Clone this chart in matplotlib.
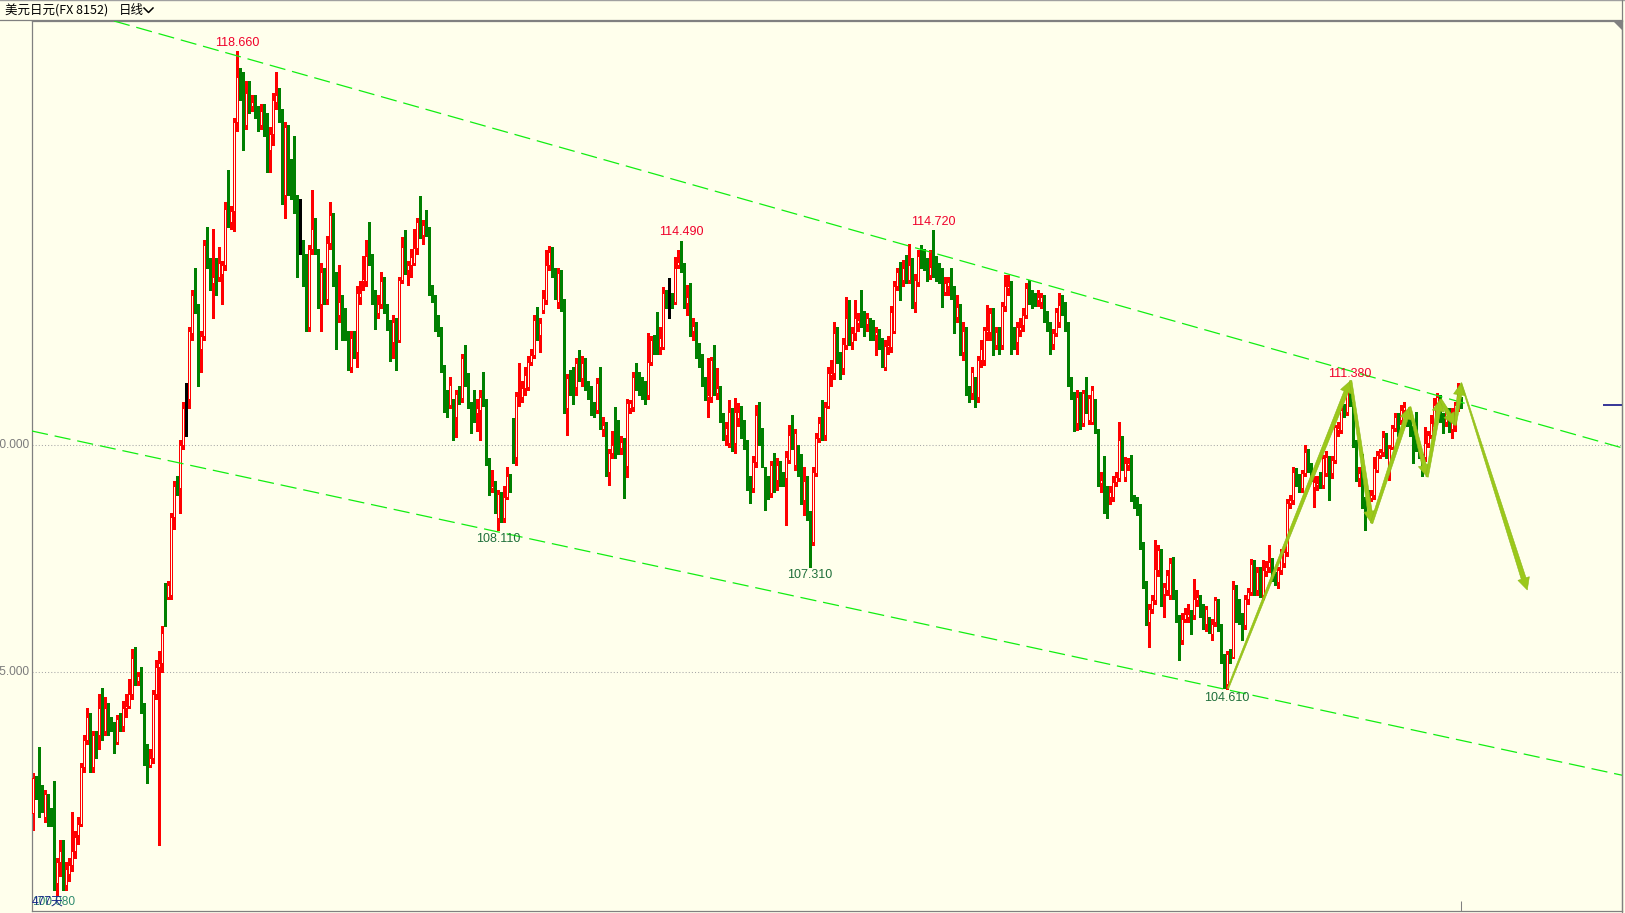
import matplotlib
matplotlib.use("Agg")
import matplotlib.pyplot as plt
import numpy as np
from matplotlib.patches import Polygon
from matplotlib.lines import Line2D
from matplotlib.transforms import IdentityTransform

plt.rcParams['font.family'] = ['Liberation Sans', 'Noto Sans CJK SC', 'DejaVu Sans']

# ---------------- data: USD/JPY daily candles (477 bars) ----------------
opens = [
    101.88, 102.66, 102.3, 102.4, 101.8, 102.3, 102.0, 101.75, 100.35, 100.8,
    101.05, 100.3, 100.55, 100.75, 101.05, 101.4, 101.65, 102.9, 103.5, 104.0,
    102.9, 103.6, 103.6, 104.2, 103.7, 104.2, 103.95, 103.85, 103.45, 103.95,
    103.8, 104.2, 104.25, 104.5, 105.3, 104.8, 104.9, 104.2, 103.35, 102.95,
    103.1, 104.5, 105.1, 105.2, 106.9, 106.65, 106.7, 108.4, 109.15, 109.05,
    110.0, 110.95, 111.0, 112.45, 113.3, 113.0, 112.1, 112.4, 114.4, 114.0,
    113.55, 114.0, 113.7, 113.75, 113.95, 115.2, 114.9, 115.15, 117.1, 118.1,
    117.9, 117.05, 117.75, 117.45, 117.45, 117.35, 117.05, 117.4, 117.2, 116.5,
    116.85, 117.55, 117.7, 117.3, 115.5, 117.0, 116.0, 115.6, 115.4, 114.55,
    114.15, 114.1, 112.6, 114.3, 114.8, 114.1, 113.1, 113.8, 113.2, 114.45,
    114.8, 113.65, 112.85, 113.15, 112.75, 112.35, 111.7, 112.35, 112.05, 113.25,
    113.6, 113.6, 114.2, 114.1, 113.25, 112.9, 113.1, 113.6, 113.08, 112.67,
    112.27, 112.7, 112.3, 113.63, 114.36, 113.85, 113.96, 114.0, 114.32, 114.87,
    114.62, 114.84, 114.74, 113.37, 113.26, 112.71, 112.52, 111.68, 111.13, 110.87,
    110.87, 110.62, 111.11, 111.02, 111.9, 111.36, 110.87, 110.76, 110.69, 110.76,
    111.09, 110.91, 109.62, 109.04, 109.09, 108.38, 108.87, 108.38, 108.85, 109.29,
    109.88, 109.73, 111.02, 111.06, 111.24, 111.28, 111.83, 111.97, 112.74, 112.41,
    112.96, 113.18, 113.96, 114.25, 113.85, 113.15, 113.81, 113.11, 110.8, 111.5,
    111.35, 111.28, 111.79, 111.46, 111.79, 111.29, 111.22, 110.84, 110.76, 111.31,
    110.34, 110.43, 109.4, 109.81, 110.34, 110.3, 109.92, 110.06, 109.53, 110.8,
    110.84, 111.5, 111.46, 111.35, 111.28, 111.09, 111.83, 112.3, 112.27, 112.16,
    112.16, 113.32, 113.26, 113.26, 113.15, 113.96, 113.98, 113.92, 113.11, 113.26,
    112.51, 112.6, 112.05, 111.9, 111.4, 111.06, 111.06, 111.86, 111.13, 111.24,
    110.63, 110.21, 110.03, 110.65, 110.03, 110.58, 110.76, 110.36, 110.03, 109.15,
    109.04, 109.62, 110.65, 110.18, 109.4, 109.18, 108.93, 109.55, 109.22, 109.55,
    109.26, 109.26, 109.66, 110.25, 109.55, 109.7, 109.7, 108.78, 109.2, 108.45,
    107.86, 109.37, 110.14, 110.47, 110.21, 110.85, 111.53, 111.57, 112.47, 111.97,
    111.68, 112.2, 112.8, 112.25, 112.45, 112.67, 112.85, 112.82, 112.66, 112.69,
    112.67, 112.41, 112.47, 112.27, 111.72, 112.16, 112.16, 112.5, 113.49, 113.81,
    113.63, 113.96, 113.63, 113.96, 113.15, 113.59, 114.18, 114.07, 114.0, 113.74,
    114.07, 113.96, 113.92, 113.81, 113.37, 113.5, 113.59, 113.41, 112.82, 113.04,
    112.05, 112.5, 111.17, 111.13, 111.42, 111.06, 111.86, 111.86, 112.49, 112.49,
    112.89, 112.2, 112.52, 112.2, 113.05, 113.44, 113.49, 112.52, 112.27, 112.52,
    112.63, 112.85, 113.44, 113.3, 113.26, 113.19, 113.15, 113.19, 112.85, 112.63,
    112.22, 112.45, 112.71, 113.05, 113.05, 112.6, 111.35, 111.06, 110.47, 111.09,
    110.47, 111.02, 110.54, 110.51, 110.95, 110.32, 109.15, 109.66, 108.96, 108.85,
    108.85, 109.18, 109.26, 110.1, 109.29, 109.55, 109.59, 108.82, 108.78, 108.63,
    107.79, 106.94, 106.1, 106.39, 106.58, 107.24, 107.6, 106.72, 106.8, 106.69,
    107.39, 106.69, 106.17, 105.7, 106.17, 106.21, 106.28, 106.25, 106.58, 106.58,
    106.39, 106.06, 106.1, 105.84, 106.1, 106.52, 105.99, 105.33, 104.74, 105.4,
    105.33, 106.83, 106.43, 106.25, 106.03, 106.61, 106.76, 107.37, 106.8, 107.2,
    106.69, 107.22, 107.31, 107.42, 107.13, 106.98, 107.24, 107.39, 107.64, 108.71,
    108.78, 109.4, 109.29, 109.04, 109.37, 109.84, 109.51, 109.07, 109.11, 109.29,
    109.11, 109.37, 109.66, 109.37, 109.66, 110.32, 110.32, 110.76, 110.73, 111.17,
    110.91, 110.03, 109.26, 109.44, 108.78, 108.93, 108.82, 108.89, 109.44, 109.77,
    109.84, 110.14, 109.44, 109.95, 110.36, 110.61, 110.54, 110.76, 110.58, 110.54,
    110.32, 110.03, 109.95, 109.73, 109.73, 110.03, 110.21, 110.47, 110.91, 111.02,
    110.61, 110.51, 110.73, 110.35, 110.43, 110.85, 111.0,
]

highs = [
    102.78, 102.7, 103.35, 102.5, 102.4, 102.3, 102.0, 102.6, 100.9, 101.3,
    101.3, 100.8, 100.9, 101.9, 101.5, 101.8, 103.0, 103.6, 104.2, 104.1,
    103.7, 103.7, 104.5, 104.65, 104.45, 104.3, 104.0, 103.9, 104.05, 104.1,
    104.35, 104.5, 104.85, 105.5, 105.55, 105.0, 105.1, 104.3, 103.4, 103.3,
    104.6, 105.25, 105.45, 106.0, 106.95, 107.0, 108.5, 109.2, 109.3, 110.1,
    110.95, 111.35, 112.6, 113.4, 113.9, 113.1, 112.5, 114.5, 114.8, 114.1,
    114.75, 114.1, 114.35, 114.05, 115.35, 116.05, 115.25, 117.2, 118.66, 118.3,
    118.2, 118.0, 118.0, 117.7, 117.7, 117.45, 117.5, 117.5, 117.3, 117.0,
    117.75, 118.2, 117.85, 117.4, 117.1, 117.05, 116.3, 116.8, 115.5, 115.4,
    114.5, 114.2, 114.4, 115.6, 115.0, 114.3, 114.0, 113.9, 114.6, 115.35,
    115.1, 113.8, 113.95, 113.3, 113.0, 112.5, 112.5, 112.5, 113.5, 113.6,
    114.15, 114.5, 114.9, 114.2, 113.4, 113.3, 113.8, 113.7, 113.1, 112.75,
    112.85, 112.8, 113.7, 114.58, 114.73, 114.05, 114.3, 114.76, 115.0, 115.48,
    114.95, 115.17, 114.8, 113.52, 113.3, 112.85, 112.6, 111.75, 111.2, 111.5,
    111.0, 111.2, 111.3, 112.0, 112.19, 111.57, 110.95, 111.2, 111.0, 111.2,
    111.6, 111.0, 109.7, 109.44, 109.2, 109.0, 108.95, 109.1, 109.51, 109.35,
    110.58, 111.17, 111.79, 111.4, 111.7, 111.95, 112.1, 112.85, 113.04, 112.8,
    113.4, 114.29, 114.37, 114.36, 113.9, 113.9, 113.85, 113.2, 111.55, 111.64,
    111.7, 111.9, 112.08, 111.95, 111.9, 111.4, 111.3, 110.95, 111.46, 111.72,
    110.6, 110.5, 109.9, 110.29, 110.84, 110.54, 110.2, 110.15, 111.0, 110.98,
    111.61, 111.79, 111.6, 111.5, 111.4, 112.45, 112.4, 112.41, 112.93, 112.6,
    113.48, 113.4, 113.66, 113.35, 114.14, 114.29, 114.49, 114.0, 113.52, 113.55,
    112.8, 112.7, 112.23, 112.0, 111.5, 111.9, 111.94, 112.19, 111.68, 111.3,
    110.7, 110.5, 110.98, 110.8, 111.02, 110.91, 110.85, 110.54, 110.1, 109.3,
    109.75, 110.87, 110.95, 110.36, 109.5, 109.3, 109.65, 109.81, 109.7, 109.65,
    109.4, 109.85, 110.43, 110.65, 110.35, 110.0, 109.8, 109.5, 109.3, 108.55,
    109.5, 110.25, 110.6, 110.98, 110.93, 111.7, 111.86, 112.71, 112.6, 112.05,
    112.35, 113.26, 113.19, 112.6, 113.19, 112.9, 113.41, 112.95, 112.9, 112.8,
    112.75, 112.6, 112.55, 112.35, 112.3, 112.4, 113.05, 113.6, 113.9, 114.03,
    114.07, 114.18, 114.43, 114.1, 113.75, 114.29, 114.4, 114.3, 114.1, 114.29,
    114.72, 114.15, 114.0, 113.9, 113.7, 113.7, 113.88, 113.5, 113.3, 113.1,
    112.7, 112.6, 111.3, 111.7, 111.5, 111.95, 112.3, 112.6, 113.08, 113.0,
    113.0, 112.6, 112.6, 113.15, 113.74, 113.74, 113.6, 112.6, 112.7, 112.8,
    113.0, 113.55, 113.63, 113.4, 113.35, 113.4, 113.33, 113.3, 112.95, 112.7,
    112.55, 113.0, 113.33, 113.3, 113.15, 112.7, 111.5, 111.15, 111.2, 111.15,
    111.2, 111.5, 111.1, 111.3, 111.0, 110.35, 109.4, 109.75, 109.1, 109.1,
    109.3, 109.4, 110.5, 110.2, 109.73, 109.7, 109.77, 108.9, 108.85, 108.7,
    107.85, 107.0, 106.5, 106.7, 107.9, 107.8, 107.7, 106.95, 107.25, 107.5,
    107.53, 106.8, 106.25, 106.3, 106.4, 106.5, 106.35, 107.05, 106.8, 106.7,
    106.5, 106.45, 106.2, 106.15, 106.65, 106.6, 106.05, 105.4, 105.45, 105.5,
    107.0, 106.9, 106.6, 106.3, 106.7, 106.85, 107.49, 107.45, 107.3, 107.3,
    107.46, 107.44, 107.79, 107.5, 107.2, 107.3, 107.7, 107.75, 108.8, 108.9,
    109.5, 109.48, 109.35, 109.45, 109.99, 109.9, 109.6, 109.3, 109.3, 109.4,
    109.77, 109.85, 109.75, 109.75, 110.43, 110.5, 110.85, 110.9, 111.3, 111.38,
    110.95, 110.1, 109.5, 109.8, 108.85, 109.0, 109.0, 109.73, 109.85, 109.9,
    110.3, 110.25, 110.0, 110.43, 110.7, 110.7, 110.87, 110.95, 110.7, 110.6,
    110.4, 110.73, 110.0, 109.8, 110.39, 110.3, 110.65, 111.02, 111.13, 111.09,
    110.7, 110.8, 110.8, 110.8, 110.95, 111.36, 111.05,
]

lows = [
    101.52, 102.2, 101.8, 101.9, 101.7, 101.6, 101.6, 100.2, 100.08, 100.5,
    100.2, 100.2, 100.4, 100.6, 100.9, 101.2, 101.6, 102.8, 103.4, 102.8,
    102.8, 103.1, 103.3, 103.5, 103.6, 103.6, 103.7, 103.2, 103.4, 103.7,
    103.7, 104.0, 104.2, 104.4, 104.7, 104.7, 104.1, 102.95, 102.55, 102.9,
    103.0, 104.4, 101.19, 105.0, 106.0, 106.6, 106.6, 108.15, 108.9, 108.5,
    109.9, 110.2, 110.8, 112.3, 112.9, 111.3, 111.6, 112.3, 113.9, 113.4,
    112.8, 113.3, 113.6, 113.1, 113.85, 114.8, 114.75, 114.7, 116.9, 117.6,
    116.5, 116.95, 117.3, 117.35, 117.2, 116.9, 116.95, 116.8, 116.0, 116.0,
    116.6, 117.4, 117.1, 115.3, 115.0, 115.5, 115.4, 115.1, 113.7, 114.2,
    113.5, 112.5, 112.5, 114.2, 114.2, 113.0, 112.5, 113.1, 113.1, 114.3,
    113.5, 112.1, 112.7, 112.3, 112.3, 111.65, 111.6, 111.9, 111.7, 113.1,
    113.4, 113.5, 113.95, 113.1, 112.55, 112.8, 113.0, 112.9, 112.52, 111.85,
    111.9, 111.65, 112.25, 113.55, 113.75, 113.52, 113.7, 113.95, 114.2, 114.55,
    114.43, 114.6, 113.3, 113.15, 112.5, 112.4, 111.6, 110.73, 110.6, 110.8,
    110.1, 110.17, 110.9, 110.95, 111.3, 110.8, 110.25, 110.5, 110.29, 110.1,
    110.85, 109.55, 108.9, 108.95, 108.5, 108.11, 108.3, 108.3, 108.8, 108.95,
    109.6, 109.55, 110.85, 110.95, 111.1, 111.2, 111.75, 111.9, 112.3, 112.05,
    112.9, 113.1, 113.85, 113.7, 113.2, 113.0, 112.95, 110.7, 110.21, 111.1,
    110.9, 111.1, 111.4, 111.3, 111.2, 111.0, 110.65, 110.6, 110.7, 110.35,
    110.2, 109.3, 109.11, 109.7, 109.7, 109.8, 109.8, 108.82, 109.29, 110.7,
    110.75, 111.2, 111.1, 111.0, 110.9, 111.0, 111.75, 112.0, 112.0, 112.0,
    112.1, 113.0, 112.78, 113.0, 113.1, 113.9, 113.8, 113.0, 112.85, 112.4,
    112.3, 111.9, 111.7, 111.3, 110.98, 110.62, 110.95, 111.1, 111.0, 110.5,
    110.1, 110.0, 109.95, 109.85, 109.81, 110.4, 110.15, 109.9, 109.0, 108.71,
    108.95, 109.5, 110.0, 109.5, 108.56, 108.8, 108.85, 108.95, 109.0, 109.1,
    109.08, 108.23, 109.6, 109.9, 109.45, 109.3, 108.7, 108.45, 108.35, 107.31,
    107.8, 109.3, 110.05, 110.1, 110.1, 110.8, 111.3, 111.45, 111.8, 111.45,
    111.55, 112.1, 112.2, 112.1, 112.3, 112.5, 112.6, 112.4, 112.5, 112.3,
    112.3, 111.97, 112.1, 111.7, 111.65, 112.0, 112.05, 112.45, 113.4, 113.19,
    113.5, 113.55, 113.55, 113.0, 112.93, 113.5, 113.9, 113.85, 113.6, 113.65,
    113.7, 113.6, 113.55, 113.04, 113.3, 113.3, 113.2, 112.45, 112.7, 111.97,
    111.86, 111.1, 110.95, 111.0, 110.84, 110.95, 111.7, 111.75, 112.3, 112.3,
    111.97, 112.1, 112.0, 112.1, 112.95, 113.3, 112.0, 112.1, 112.0, 112.4,
    112.5, 112.8, 113.1, 113.0, 113.05, 113.05, 113.0, 112.7, 112.5, 112.0,
    112.1, 112.4, 112.6, 112.85, 112.5, 111.3, 111.0, 110.3, 110.33, 110.35,
    110.4, 110.7, 110.45, 110.45, 110.25, 109.1, 108.95, 108.49, 108.38, 108.7,
    108.75, 109.1, 109.2, 109.45, 109.2, 109.45, 108.75, 108.6, 108.45, 107.7,
    106.85, 106.03, 105.55, 106.3, 106.5, 107.1, 106.45, 106.21, 106.7, 106.6,
    106.6, 106.1, 105.26, 105.6, 106.1, 106.1, 105.84, 106.15, 106.45, 106.2,
    105.95, 105.9, 105.85, 105.7, 106.0, 105.9, 105.2, 104.65, 104.61, 105.2,
    105.3, 106.1, 106.06, 105.7, 105.95, 106.5, 106.7, 106.7, 106.7, 106.65,
    106.6, 107.1, 107.2, 107.0, 106.9, 106.85, 107.15, 107.3, 107.55, 108.6,
    108.7, 109.1, 108.95, 108.95, 109.3, 109.4, 109.2, 108.63, 109.0, 109.05,
    109.05, 109.3, 108.78, 109.26, 109.6, 110.2, 110.25, 110.6, 110.65, 110.85,
    109.95, 109.2, 109.1, 108.6, 108.12, 108.7, 108.75, 108.8, 109.4, 109.7,
    109.75, 109.7, 109.22, 109.9, 110.3, 110.2, 110.45, 110.7, 110.4, 110.2,
    109.59, 109.85, 109.7, 109.3, 109.65, 109.95, 110.15, 110.4, 110.85, 110.5,
    110.25, 110.4, 110.28, 110.15, 110.3, 110.75, 110.8,
]

closes = [
    102.66, 102.3, 102.2, 102.1, 102.3, 102.05, 101.75, 100.35, 100.8, 101.05,
    100.3, 100.65, 100.75, 101.05, 101.35, 101.65, 102.9, 103.5, 104.0, 102.9,
    103.6, 103.5, 104.2, 103.7, 104.2, 103.95, 103.85, 103.45, 103.95, 103.8,
    104.2, 104.25, 104.5, 105.3, 104.8, 104.9, 104.2, 103.35, 103.0, 103.1,
    104.5, 105.1, 105.2, 105.85, 106.7, 106.9, 108.4, 109.1, 109.05, 110.0,
    110.8, 110.95, 112.5, 113.3, 113.0, 112.4, 112.4, 114.4, 114.0, 113.5,
    113.7, 113.7, 114.0, 113.95, 115.2, 114.9, 115.15, 117.1, 118.1, 117.9,
    117.05, 117.75, 117.5, 117.55, 117.35, 117.05, 117.35, 116.9, 116.55, 116.85,
    117.6, 117.7, 117.3, 115.5, 117.0, 116.0, 115.6, 115.4, 114.55, 114.55,
    114.1, 112.6, 114.3, 114.75, 114.45, 113.1, 113.8, 113.2, 114.45, 115.05,
    113.7, 112.85, 113.15, 112.7, 112.6, 111.75, 112.35, 112.05, 113.35, 113.35,
    113.65, 114.15, 114.1, 113.25, 112.9, 113.1, 113.6, 113.05, 112.71, 112.05,
    112.71, 112.3, 113.63, 114.36, 113.85, 113.96, 114.14, 114.32, 114.91, 114.65,
    114.84, 114.73, 113.37, 113.26, 112.63, 112.52, 111.72, 111.13, 110.91, 111.31,
    110.62, 111.11, 111.02, 111.9, 111.39, 110.87, 110.73, 110.7, 110.8, 111.06,
    110.91, 109.62, 109.0, 109.09, 108.56, 108.91, 108.38, 108.85, 109.31, 109.07,
    109.73, 111.07, 111.06, 111.24, 111.53, 111.83, 111.97, 112.74, 112.41, 112.67,
    113.24, 113.96, 114.25, 113.85, 113.33, 113.77, 113.08, 110.8, 111.46, 111.28,
    111.28, 111.79, 111.5, 111.8, 111.29, 111.24, 110.84, 110.76, 111.35, 110.43,
    110.43, 109.4, 109.81, 109.99, 109.81, 109.92, 110.06, 109.53, 110.91, 110.91,
    111.5, 111.42, 111.35, 111.31, 111.24, 111.83, 112.3, 112.27, 112.16, 112.34,
    113.33, 113.26, 113.26, 113.18, 113.88, 114.03, 113.92, 113.15, 113.26, 112.52,
    112.61, 112.05, 111.94, 111.4, 111.07, 111.09, 111.86, 111.24, 111.24, 110.63,
    110.25, 110.36, 110.73, 110.03, 110.73, 110.73, 110.29, 110.03, 109.15, 109.11,
    109.62, 110.65, 110.17, 109.59, 109.18, 108.96, 109.55, 109.04, 109.55, 109.26,
    109.22, 109.73, 110.21, 110.0, 110.25, 109.55, 108.78, 109.2, 108.45, 107.83,
    109.4, 110.14, 110.47, 110.21, 110.82, 111.57, 111.57, 112.47, 111.97, 111.68,
    112.22, 112.8, 112.3, 112.45, 112.78, 112.74, 112.71, 112.6, 112.78, 112.6,
    112.45, 112.49, 112.27, 111.79, 112.17, 112.2, 112.93, 113.49, 113.81, 113.41,
    113.88, 113.66, 113.96, 113.19, 113.63, 114.15, 114.03, 114.03, 113.74, 113.92,
    113.9, 113.74, 113.77, 113.33, 113.55, 113.59, 113.37, 112.8, 113.04, 112.05,
    112.5, 111.17, 111.13, 111.6, 111.06, 111.86, 112.1, 112.52, 112.52, 112.89,
    112.2, 112.49, 112.2, 113.05, 113.49, 113.49, 112.49, 112.27, 112.6, 112.6,
    112.85, 113.44, 113.26, 113.19, 113.19, 113.26, 113.26, 112.85, 112.63, 112.22,
    112.45, 112.93, 113.07, 112.97, 112.6, 111.35, 111.17, 110.47, 111.06, 110.43,
    111.13, 110.76, 111.02, 111.2, 110.32, 109.15, 109.22, 108.71, 108.63, 108.96,
    109.18, 109.29, 110.1, 109.55, 109.59, 109.59, 108.82, 108.71, 108.6, 107.79,
    106.94, 106.1, 106.39, 106.58, 107.27, 107.68, 106.58, 106.87, 107.13, 107.39,
    106.69, 106.21, 105.7, 106.17, 106.28, 106.28, 106.06, 106.61, 106.65, 106.28,
    106.03, 106.39, 105.95, 106.06, 106.58, 105.99, 105.29, 104.74, 105.4, 105.33,
    106.83, 106.25, 106.25, 105.88, 106.61, 106.76, 107.37, 106.8, 107.2, 106.76,
    107.25, 107.31, 107.42, 107.2, 106.98, 107.24, 107.6, 107.64, 108.71, 108.78,
    109.4, 109.26, 109.04, 109.37, 109.84, 109.51, 109.33, 109.18, 109.15, 109.15,
    109.7, 109.73, 109.37, 109.66, 110.39, 110.36, 110.76, 110.73, 111.17, 110.91,
    110.03, 109.26, 109.37, 108.78, 108.41, 108.82, 108.89, 109.48, 109.77, 109.84,
    110.17, 109.81, 109.92, 110.36, 110.61, 110.32, 110.76, 110.84, 110.54, 110.32,
    110.03, 109.92, 109.73, 109.37, 110.03, 110.21, 110.47, 110.87, 111.06, 110.58,
    110.47, 110.73, 110.45, 110.7, 110.87, 111.2, 110.87,
]

# labelled swing highs / lows (bar index)
peak_idx = [68, 216, 300, 439]
trough_idx = [155, 259, 398]

# channel lines (bar index, price)
upper_x = [27, 529.7]
upper_y = [119.33, 109.93]
lower_x = [-0.33, 529.7]
lower_y = [110.30, 102.72]

# zigzag arrows drawn on the chart (bar index, price)
arrow_x = [398.3, 439.2, 446.2, 458.9, 464.7, 469.1, 474.0, 476.1, 498.1]
arrow_y = [104.63, 111.41, 108.27, 110.83, 109.29, 111.00, 110.43, 111.36, 106.80]

grid_prices = [110, 105]
title_txt = '美元日元(FX 8152)'
period_txt = '日线'

# ---------------- style ----------------
BG = '#ffffec'
RED = '#ff0000'
GREEN = '#008000'
FRAME = '#808080'
ARROW = '#9bc81a'

W, H = 1625, 913
fig = plt.figure(figsize=(W / 100, H / 100), dpi=100, facecolor=BG)
ax = fig.add_axes([32 / W, (H - 911) / H, (1622 - 32) / W, (911 - 21) / H])
ax.set_facecolor(BG)
ax.set_xlim(-0.33, 529.67)
ax.set_ylim(99.73, 119.33)
ax.set_xticks([])
ax.set_yticks([])
for s in ax.spines.values():
    s.set_color(FRAME)
    s.set_linewidth(0.9)

o = np.array(opens)
hi = np.array(highs)
lo = np.array(lows)
c = np.array(closes)
n = len(c)
x = np.arange(n)
hi = np.maximum(hi, np.maximum(o, c))
lo = np.minimum(lo, np.minimum(o, c))

up = c > o
dn = c < o
dj = c == o

wick_cols = np.where(up, RED, np.where(dn, GREEN, 'black'))
ax.vlines(x, lo, hi, colors=wick_cols, lw=0.75, antialiased=False, zorder=2)

min_h = 0.025
ax.bar(x[dn], np.maximum(o[dn] - c[dn], min_h), bottom=c[dn], width=0.8,
       color=GREEN, lw=0, antialiased=False, zorder=3)
ax.bar(x[up], np.maximum(c[up] - o[up], min_h), bottom=o[up], width=0.667,
       facecolor=BG, edgecolor=RED, lw=0.72, antialiased=False, zorder=3)
ax.hlines(c[dj], x[dj] - 0.45, x[dj] + 0.45, colors='black', lw=0.75,
          antialiased=False, zorder=3)

# dotted price grid
for gp in grid_prices:
    ax.axhline(gp, color='#a8a8a8', lw=0.75, ls=(0, (1, 2)), zorder=1)
    ax.text(-1.33, gp, f'{gp:.3f}', ha='right', va='center', fontsize=8.6,
            color='#7c7c7c', clip_on=False)

# channel
ax.plot(upper_x, upper_y, color='#11ee11', lw=0.9, ls=(0, (13, 5.5)), zorder=4)
ax.plot(lower_x, lower_y, color='#11ee11', lw=0.9, ls=(0, (13, 5.5)), zorder=4)

# swing labels
for i in peak_idx:
    ax.annotate(f'{hi[i]:.3f}', (i, hi[i]), xytext=(0, 6), textcoords='offset points',
                ha='center', va='center', fontsize=9, color='#f0002a', zorder=6)
for i in trough_idx:
    ax.annotate(f'{lo[i]:.3f}', (i, lo[i]), xytext=(0, -6), textcoords='offset points',
                ha='center', va='center', fontsize=9, color='#1f6f3a', zorder=6)

# last price marker and last-bar tick
ax.hlines(c[-1], 523.3, 529.67, colors='#000080', lw=1.1, zorder=5)
ax.vlines(n - 1, 99.73, 99.95, colors=FRAME, lw=0.75, zorder=5)

# zigzag arrows (tapered, built in pixel space)
fig.canvas.draw()
pts = ax.transData.transform(np.column_stack([arrow_x, arrow_y]))


def taper_arrow(p0, p1, w0, w1, wh, hl):
    d = p1 - p0
    L = np.hypot(d[0], d[1])
    u = d / L
    nv = np.array([-u[1], u[0]])
    b = p1 - u * hl
    return [p0 + nv * w0 / 2, b + nv * w1 / 2, b + nv * wh / 2, p1,
            b - nv * wh / 2, b - nv * w1 / 2, p0 - nv * w0 / 2]


for k in range(len(pts) - 1):
    if k == 0:
        w0, w1 = 1.5, 4.5
    elif k == len(pts) - 2:
        w0, w1 = 1.0, 5.0
    else:
        w0, w1 = 2.5, 4.5
    poly = taper_arrow(pts[k], pts[k + 1], w0, w1, 12, 12)
    ax.add_patch(Polygon(poly, closed=True, transform=IdentityTransform(),
                         facecolor=ARROW, edgecolor='#8cb818', lw=0.4, zorder=7))

# header / frame
def fx(px):
    return px / W


def fy(py):
    return 1 - py / H


fig.add_artist(Line2D([0, 1], [fy(0.5), fy(0.5)], color='#a0a0a0', lw=1))
fig.add_artist(Line2D([0, fx(1622)], [fy(20.5), fy(20.5)], color=FRAME, lw=0.9))
fig.add_artist(Line2D([fx(1622), fx(1622)], [0, 1], color=FRAME, lw=0.9))
fig.add_artist(Polygon([[fx(1613), fy(21)], [fx(1622), fy(21)], [fx(1622), fy(30)]],
                       closed=True, transform=fig.transFigure, facecolor=FRAME,
                       edgecolor='none'))
fig.text(fx(5), fy(10.5), title_txt, ha='left', va='center', fontsize=9,
         family=['Noto Sans CJK SC', 'DejaVu Sans'], color='black')
fig.text(fx(119), fy(10.5), period_txt, ha='left', va='center', fontsize=9,
         family=['Noto Sans CJK SC', 'DejaVu Sans'], color='black')
fig.add_artist(Line2D([fx(144), fx(148.5), fx(153)], [fy(8), fy(12.5), fy(8)],
                      color='black', lw=1.1))

# bottom-left info: visible low and number of bars
fig.text(fx(32), fy(902), f'{lo.min():.3f}', ha='left', va='center', fontsize=8.6,
         color='#2e8b6e')
fig.text(fx(32), fy(902), f'{n}天', ha='left', va='center', fontsize=8.6,
         color='#1a2a8a', family=['Liberation Sans', 'Noto Sans CJK SC'])

fig.savefig('out.png', dpi=100, facecolor=BG)
